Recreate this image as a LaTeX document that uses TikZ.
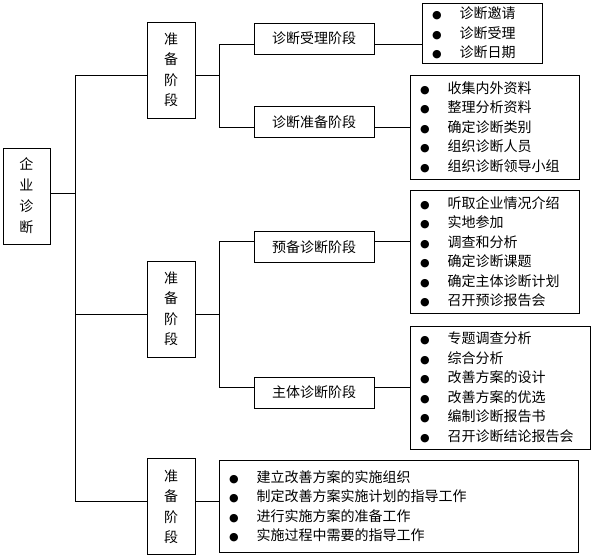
\documentclass[tikz,border=0pt]{standalone}
\usepackage{fontspec}
\usepackage{tikz}
\newfontfamily\cjk{Noto Sans CJK SC}
\newfontfamily\symfont{DejaVu Sans}
\newcommand{\itm}{\makebox[27.5pt][l]{\symfont\fontsize{11}{11}\selectfont ●}}

\begin{document}
\begin{tikzpicture}[
    x=1pt, y=-1pt,
    box/.style={
        draw, line width=0.9pt, inner sep=0pt,
        font=\cjk\fontsize{14}{20.5}\selectfont,
    },
    stagebox/.style={box, align=center, minimum width=48pt, minimum height=96pt},
    subbox/.style={box, minimum width=120pt, minimum height=31pt},
    listbox/.style={box, align=left, inner xsep=10pt,
        font=\cjk\fontsize{14}{19.5}\selectfont},
    link/.style={line width=0.9pt},
]
\useasboundingbox (0,0) rectangle (594,557);

% =============================================
% ROOT and the three stages
% =============================================
\node[stagebox, minimum width=47pt, font=\cjk\fontsize{14}{21}\selectfont] (root) at (26.5,196) {企\\业\\诊\\断};

\node[stagebox] (prep1) at (171,70) {准\\备\\阶\\段};
\node[stagebox] (prep2) at (171,309) {准\\备\\阶\\段};
\node[stagebox] (prep3) at (171,506.5) {准\\备\\阶\\段};

% Trunk
\coordinate (r0) at (75,193);
\coordinate (r1) at (75,75);
\coordinate (r2) at (75,314);
\coordinate (r3) at (75,501);
\draw[link] (root.east |- r0) -- (r0);
\draw[link] (r1) -- (r3);
\draw[link] (r1) -- (prep1.west |- r1);
\draw[link] (r2) -- (prep2.west |- r2);
\draw[link] (r3) -- (prep3.west |- r3);

% =============================================
% STAGE 1
% =============================================
\node[subbox] (sub1) at (314,38.5) {诊断受理阶段};
\node[subbox] (sub2) at (314,122) {诊断准备阶段};

\node[listbox, text width=100pt, minimum height=60pt] (list1) at (482,33) {%
  \itm 诊断邀请\\
  \itm 诊断受理\\
  \itm 诊断日期};
\node[listbox, text width=149pt, minimum height=104pt] (list2) at (494.5,127) {%
  \itm 收集内外资料\\
  \itm 整理分析资料\\
  \itm 确定诊断类别\\
  \itm 组织诊断人员\\
  \itm 组织诊断领导小组};

\coordinate (b1) at (219,75);
\coordinate (b1a) at (219,44);
\coordinate (b1b) at (219,127);
\draw[link] (prep1.east |- b1) -- (b1);
\draw[link] (sub1.west |- b1a) -- (b1a) -- (b1b) -- (sub2.west |- b1b);
\draw[link] (sub1.east |- b1a) -- (list1.west |- b1a);
\draw[link] (sub2.east |- b1b) -- (list2.west |- b1b);

% =============================================
% STAGE 2
% =============================================
\node[subbox] (sub3) at (314,247) {预备诊断阶段};
\node[subbox] (sub4) at (314,392.5) {主体诊断阶段};

\node[listbox, text width=149pt, minimum height=123pt] (list3) at (494.5,251.5) {%
  \itm 听取企业情况介绍\\
  \itm 实地参加\\
  \itm 调查和分析\\
  \itm 确定诊断课题\\
  \itm 确定主体诊断计划\\
  \itm 召开预诊报告会};
\node[listbox, text width=160pt, minimum height=123pt] (list4) at (500,387.5) {%
  \itm 专题调查分析\\
  \itm 综合分析\\
  \itm 改善方案的设计\\
  \itm 改善方案的优选\\
  \itm 编制诊断报告书\\
  \itm 召开诊断结论报告会};

\coordinate (b2) at (219,314);
\coordinate (b2a) at (219,241);
\coordinate (b2b) at (219,387);
\draw[link] (prep2.east |- b2) -- (b2);
\draw[link] (sub3.west |- b2a) -- (b2a) -- (b2b) -- (sub4.west |- b2b);
\draw[link] (sub3.east |- b2a) -- (list3.west |- b2a);
\draw[link] (sub4.east |- b2b) -- (list4.west |- b2b);

% =============================================
% STAGE 3
% =============================================
\node[listbox, text width=339pt, minimum height=92pt] (list5) at (398.5,506) {%
  \itm 建立改善方案的实施组织\\
  \itm 制定改善方案实施计划的指导工作\\
  \itm 进行实施方案的准备工作\\
  \itm 实施过程中需要的指导工作};

\draw[link] (prep3.east |- r3) -- (list5.west |- r3);

\end{tikzpicture}
\end{document}
